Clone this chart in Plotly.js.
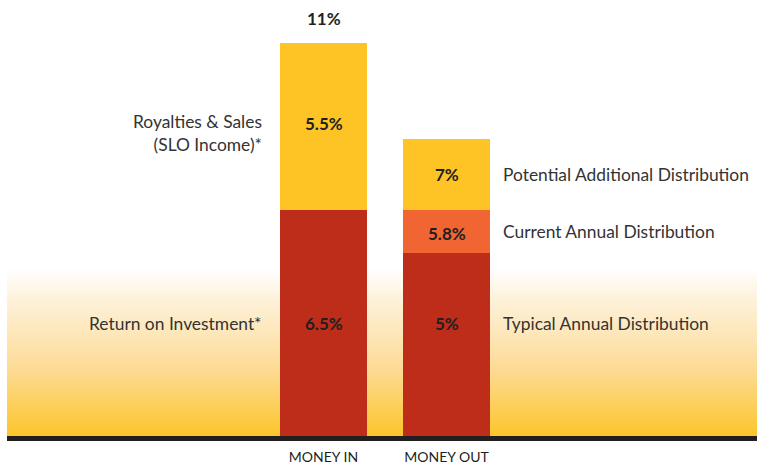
<!DOCTYPE html>
<html>
<head>
<meta charset="utf-8">
<script src="https://cdn.plot.ly/plotly-3.0.1.min.js"></script>
<style>html,body{margin:0;padding:0;background:#fff;}#chart{width:757px;height:466px;}</style>
</head>
<body>
<div id="chart"></div>
<script>
// Categories and drawn segment heights (in chart units)
const categories = ['MONEY IN', 'MONEY OUT'];
const redHeights    = [6.22, 5.04];
const orangeHeights = [0, 1.18];
const yellowHeights = [4.60, 1.95];

// Labels printed on the chart
const redLabels    = ['6.5%', '5%'];
const orangeLabels = ['', '5.8%'];
const yellowLabels = ['5.5%', '7%'];
const totalLabel   = '11%';
const leftLabels   = ['Royalties &amp; Sales<br>(SLO Income)*', 'Return on Investment*'];
const rightLabels  = ['Potential Additional Distribution', 'Current Annual Distribution', 'Typical Annual Distribution'];

const RED = '#BE2D1A', ORANGE = '#F16533', YELLOW = '#FEC324', INK = '#231F20', TXT = '#333333';
const FONT = 'Lato, "Open Sans", sans-serif';
const BW = 0.707;
const SIDE = 17.4, BOLD = 17;

const traces = [
  {type:'bar', x:categories, y:redHeights, marker:{color:RED}, width:BW, hoverinfo:'none'},
  {type:'bar', x:categories, y:orangeHeights, marker:{color:ORANGE}, width:BW, hoverinfo:'none'},
  {type:'bar', x:categories, y:yellowHeights, marker:{color:YELLOW}, width:BW, hoverinfo:'none'}
];

const ann = [];
const rowY = redHeights[0] / 2;
categories.forEach((c, i) => {
  const r = redHeights[i], o = orangeHeights[i], yl = yellowHeights[i];
  ann.push({x:c, y:rowY, text:'<b>' + redLabels[i] + '</b>'});
  if (orangeLabels[i]) ann.push({x:c, y:r + o / 2, text:'<b>' + orangeLabels[i] + '</b>', yshift:-2});
  ann.push({x:c, y:r + o + yl / 2, text:'<b>' + yellowLabels[i] + '</b>', yshift: i === 0 ? 3 : 0});
});
ann.forEach(a => { a.showarrow = false; a.xref = 'x'; a.yref = 'y'; a.font = {family:FONT, size:BOLD, color:INK}; });
ann.push({x:categories[0], y:redHeights[0] + yellowHeights[0], yanchor:'bottom', yshift:12, showarrow:false,
  text:'<b>' + totalLabel + '</b>', font:{family:FONT, size:BOLD, color:INK}});

const leftX = -0.484, rightX = 1.444;
ann.push({x:leftX, y:redHeights[0] + yellowHeights[0] / 2, yshift:-7, xanchor:'right', align:'right', showarrow:false,
  text:leftLabels[0], font:{family:FONT, size:SIDE, color:TXT}});
ann.push({x:leftX, y:rowY, xanchor:'right', align:'right', showarrow:false,
  text:leftLabels[1], font:{family:FONT, size:SIDE, color:TXT}});
ann.push({x:rightX, y:redHeights[1] + orangeHeights[1] + yellowHeights[1] / 2, xanchor:'left', showarrow:false,
  text:rightLabels[0], font:{family:FONT, size:SIDE, color:TXT}});
ann.push({x:rightX, y:redHeights[1] + orangeHeights[1] / 2, xanchor:'left', showarrow:false,
  text:rightLabels[1], font:{family:FONT, size:SIDE, color:TXT}});
ann.push({x:rightX, y:rowY, xanchor:'left', showarrow:false,
  text:rightLabels[2], font:{family:FONT, size:SIDE, color:TXT}});

const svg = '<svg xmlns="http://www.w3.org/2000/svg" width="750" height="168" preserveAspectRatio="none">' +
  '<defs><linearGradient id="g" x1="0" y1="0" x2="0" y2="1">' +
  '<stop offset="0" stop-color="#FFFFFF"/>' +
  '<stop offset="0.18" stop-color="#FEF2DC"/>' +
  '<stop offset="0.6" stop-color="#FDDB95"/>' +
  '<stop offset="1" stop-color="#FCC52A"/>' +
  '</linearGradient></defs><rect width="750" height="168" fill="url(#g)"/></svg>';

const layout = {
  width:757, height:466,
  margin:{l:0, r:0, t:0, b:30},
  barmode:'stack',
  showlegend:false,
  paper_bgcolor:'#FFFFFF',
  plot_bgcolor:'rgba(0,0,0,0)',
  xaxis:{type:'category', range:[-2.63, 3.524], showgrid:false, zeroline:false, showline:false, ticks:'',
    tickfont:{family:FONT, size:14, color:INK}, ticklabelstandoff:11, fixedrange:true},
  yaxis:{range:[0, 12], visible:false, fixedrange:true},
  annotations:ann,
  images:[{source:'data:image/svg+xml;charset=utf-8,' + encodeURIComponent(svg), xref:'paper', yref:'paper',
    x:7/757, y:168/436, sizex:750/757, sizey:168/436, xanchor:'left', yanchor:'top', sizing:'stretch', layer:'below'}],
  shapes:[{type:'rect', xref:'paper', yref:'paper', x0:7/757, x1:1, y0:-5/436, y1:0, fillcolor:INK, line:{width:0}}]
};

Plotly.newPlot('chart', traces, layout, {displayModeBar:false, staticPlot:true});
</script>
</body>
</html>
